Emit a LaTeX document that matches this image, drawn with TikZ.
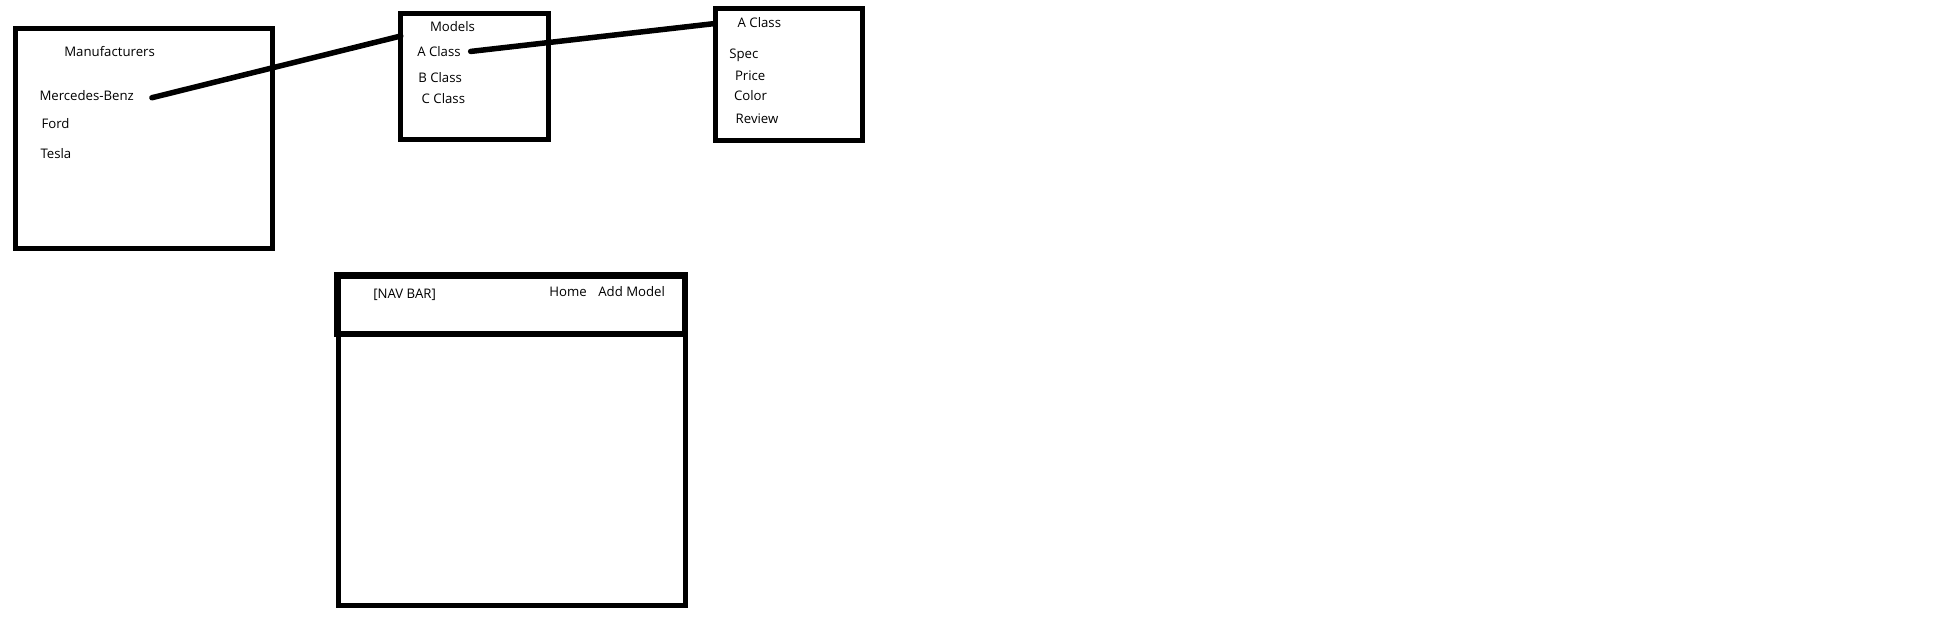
\documentclass[tikz,border=0pt]{standalone}
\usepackage{fontspec}
\setmainfont{Open Sans}
\begin{document}
\begin{tikzpicture}[x=1pt,y=-1pt,
  box/.style={draw=black,line width=5pt,rectangle,inner sep=0pt,outer sep=0pt,anchor=north west},
  lbl/.style={inner sep=0pt,outer sep=0pt,anchor=mid west,yshift=-2pt,font=\fontsize{13.2pt}{15pt}\selectfont,text=black},
  conn/.style={draw=black,line width=5.5pt,line cap=round}]
\useasboundingbox[fill=white] (0,0) rectangle (1940,626);
% boxes
\node[box,minimum width=256.8pt,minimum height=219.5pt] (manu) at (15.5,28.5) {};
\node[box,minimum width=147.7pt,minimum height=125.7pt] (models) at (400.8,13.5) {};
\node[box,minimum width=147.3pt,minimum height=132.3pt] (aclassbox) at (715.2,8.5) {};
\node[box,minimum width=346.9pt,minimum height=272pt] (page) at (338.3,333.8) {};
\node[box,line width=6.5pt,minimum width=347.9pt,minimum height=58.2pt] (navbar) at (337.3,275.6) {};
% manufacturers texts
\node[lbl] (tmanu) at (64.3,51.7) {Manufacturers};
\node[lbl] (mb) at (39.5,96) {Mercedes-Benz};
\node[lbl] (ford) at (41.5,123.5) {Ford};
\node[lbl] (tesla) at (40.5,153.4) {Tesla};
% models texts
\node[lbl] (tmodels) at (430,26.7) {Models};
\node[lbl] (ma) at (417.3,51.7) {A Class};
\node[lbl] (mbc) at (418.3,77.7) {B Class};
\node[lbl] (mc) at (421.7,99.3) {C Class};
% A class texts
\node[lbl] (tac) at (737.7,23.3) {A Class};
\node[lbl] (spec) at (729.3,54.3) {Spec};
\node[lbl] (price) at (735,75.7) {Price};
\node[lbl] (color) at (734,96) {Color};
\node[lbl] (review) at (735.7,119) {Review};
% nav bar texts
\node[lbl] (nav) at (373.3,294) {[NAV BAR]};
\node[lbl] (home) at (549.3,292.3) {Home};
\node[lbl] (addm) at (598.3,292.3) {Add Model};
% connectors
\draw[conn] ([xshift=18pt,yshift=-2pt]mb.east) -- ([yshift=-22.5pt]models.north west);
\draw[conn] ([xshift=10pt]ma.east) -- ([yshift=-15pt]aclassbox.north west);
\end{tikzpicture}
\end{document}
